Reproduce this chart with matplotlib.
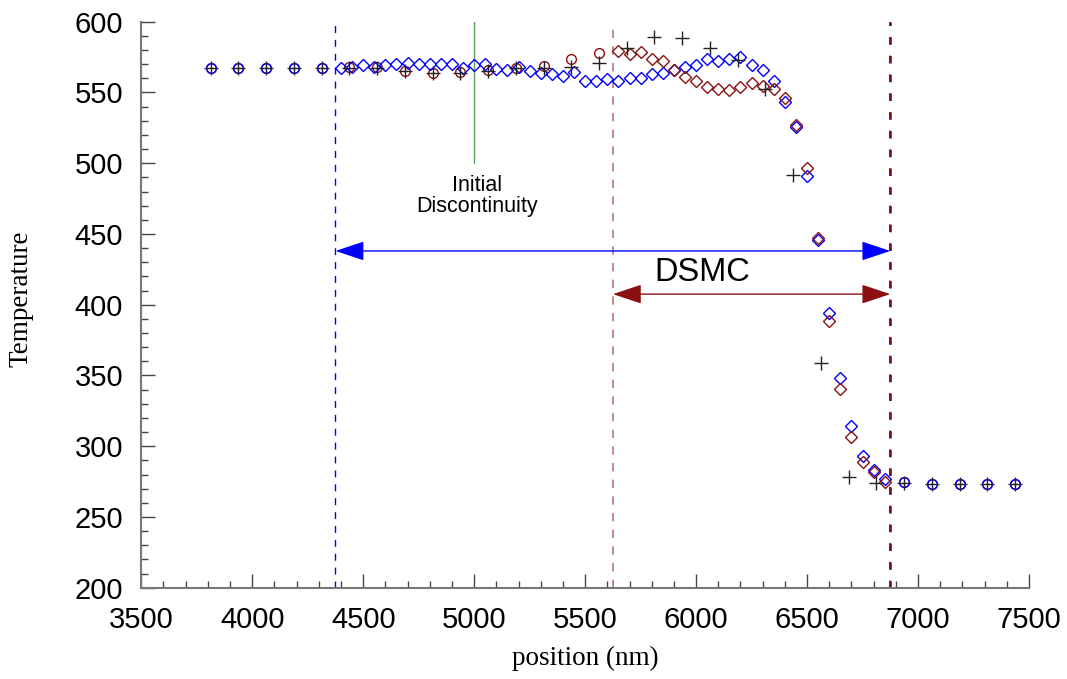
import numpy as np
import matplotlib
matplotlib.use("Agg")
import matplotlib.pyplot as plt
from matplotlib.ticker import MultipleLocator

# coarse grid (continuum) cells
coarse_x = [3812.5, 3937.5, 4062.5, 4187.5, 4312.5, 4437.5, 4562.5, 4687.5, 4812.5, 4937.5,
            5062.5, 5187.5, 5312.5, 5437.5, 5562.5, 5687.5, 5812.5, 5937.5, 6062.5, 6187.5,
            6312.5, 6437.5, 6562.5, 6687.5, 6812.5, 6937.5, 7062.5, 7187.5, 7312.5, 7437.5]
black_T = [567, 567, 567, 567, 567, 567, 567, 565, 563.5, 563.5,
           565, 567, 567, 568, 571, 581.5, 589.5, 588.5, 581.5, 573,
           552.5, 492, 359, 278, 274, 274, 273.5, 273.5, 273.5, 273.5]

red_circ_x = [3812.5, 3937.5, 4062.5, 4187.5, 4312.5, 4437.5, 4562.5, 4687.5, 4812.5, 4937.5,
              5062.5, 5187.5, 5312.5, 5437.5, 5562.5, 6937.5, 7062.5, 7187.5, 7312.5, 7437.5]
red_circ_T = [567, 567, 567, 567, 567, 567.8, 567.8, 565.4, 564, 564.2,
              566, 567.5, 568.5, 574, 578, 275, 273.5, 273.5, 273.5, 273.5]

blue_circ_x = [3812.5, 3937.5, 4062.5, 4187.5, 4312.5, 6937.5, 7062.5, 7187.5, 7312.5, 7437.5]
blue_circ_T = [567, 567, 567, 567, 567, 275, 273.5, 273.5, 273.5, 273.5]

# DSMC cells
blue_dia_x = [4400, 4450, 4500, 4550, 4600, 4650, 4700, 4750, 4800, 4850,
              4900, 4950, 5000, 5050, 5100, 5150, 5200, 5250, 5300, 5350,
              5400, 5450, 5500, 5550, 5600, 5650, 5700, 5750, 5800, 5850,
              5900, 5950, 6000, 6050, 6100, 6150, 6200, 6250, 6300, 6350,
              6400, 6450, 6500, 6550, 6600, 6650, 6700, 6750, 6800, 6850]
blue_dia_T = [567.0, 567.8, 569.2, 567.8, 569.2, 569.9, 570.8, 569.9, 570.3, 569.9,
              569.9, 567.5, 569.2, 570.1, 566.4, 565.9, 568.2, 565.4, 564, 563,
              561.6, 564.2, 558.3, 558.3, 559.3, 558.3, 560, 560, 563, 563.5,
              565.9, 568.2, 569.4, 573.4, 572.4, 573.9, 574.8, 569.4, 565.9, 558.3,
              543.5, 525.4, 491.2, 446, 393.9, 348, 314.5, 293.3, 283, 276.7]

red_dia_x = [5650, 5700, 5750, 5800, 5850, 5900, 5950, 6000, 6050, 6100,
             6150, 6200, 6250, 6300, 6350, 6400, 6450, 6500, 6550, 6600,
             6650, 6700, 6750, 6800, 6850]
red_dia_T = [579.5, 577.2, 578.8, 573.6, 572.4, 565.9, 561.1, 558.3, 553.6, 552.2,
             551.7, 554.1, 556.5, 554.6, 552.4, 545.9, 527, 496.4, 447, 388.7,
             340.2, 306.7, 288.6, 282, 274.5]

blue_start = 4375
red_start = 5625
dsmc_end = 6875
disc_x = 5000

plt.rcParams["lines.scale_dashes"] = False
red = "#8B1010"
blue = "#0000FF"

fig = plt.figure(figsize=(10.67, 6.79), dpi=100)
ax = fig.add_axes([0.1324, 0.1344, 0.832, 0.8336])

ax.axvline(blue_start, color=blue, lw=1, dashes=(5, 5), zorder=1)
ax.axvline(red_start, color="#B87878", lw=1.2, dashes=(6, 6), zorder=1)
ax.axvline(dsmc_end, color=blue, lw=1.8, dashes=(5.3, 8.2), zorder=1)
ax.axvline(dsmc_end, color=red, lw=1.3, dashes=(5.3, 8.2), zorder=1)
ax.plot([disc_x, disc_x], [500, 600], color="#5E9E5E", lw=1, zorder=1)

ax.plot(red_circ_x, red_circ_T, "o", ms=7, mfc="none", mec=red, mew=1, zorder=3)
ax.plot(blue_circ_x, blue_circ_T, "o", ms=7, mfc="none", mec=blue, mew=1, zorder=3)
ax.plot(blue_dia_x, blue_dia_T, "D", ms=5.8, mfc="none", mec=blue, mew=1, zorder=3)
ax.plot(red_dia_x, red_dia_T, "D", ms=5.8, mfc="none", mec=red, mew=1, zorder=3)
ax.plot(coarse_x, black_T, "+", ms=10, color="#222222", mew=1, zorder=4)

ax.annotate("", xy=(blue_start, 438), xytext=(dsmc_end, 438),
            arrowprops=dict(arrowstyle="<|-|>,head_length=0.9,head_width=0.3",
                            color=blue, lw=1, shrinkA=0, shrinkB=0, mutation_scale=20))
ax.annotate("", xy=(red_start, 407.5), xytext=(dsmc_end, 407.5),
            arrowprops=dict(arrowstyle="<|-|>,head_length=0.9,head_width=0.3",
                            color=red, lw=1, shrinkA=0, shrinkB=0, mutation_scale=20))

ax.text(6030, 423, "DSMC", fontsize=23.5, family="Liberation Sans", ha="center", va="center")
ax.text(5012, 477, "Initial\nDiscontinuity", fontsize=15.5, family="Liberation Sans",
        ha="center", va="center", linespacing=1.0)

ax.set_xlim(3500, 7500)
ax.set_ylim(200, 600)
ax.xaxis.set_major_locator(MultipleLocator(500))
ax.xaxis.set_minor_locator(MultipleLocator(100))
ax.yaxis.set_major_locator(MultipleLocator(50))
ax.yaxis.set_minor_locator(MultipleLocator(10))

for s in ["top", "right"]:
    ax.spines[s].set_visible(False)
for s in ["left", "bottom"]:
    ax.spines[s].set_color("#777777")
    ax.spines[s].set_linewidth(1.5)

ax.tick_params(which="both", direction="in", color="#444444", width=1)
ax.tick_params(which="major", length=10, labelsize=21, pad=13)
ax.tick_params(which="minor", length=5)
for lab in ax.get_xticklabels() + ax.get_yticklabels():
    lab.set_family("Liberation Sans")

ax.set_xlabel("position (nm)", family="Liberation Serif", fontsize=19.5)
ax.set_ylabel("Temperature", family="Liberation Serif", fontsize=19.5)
ax.xaxis.set_label_coords(0.5, -0.102)
ax.yaxis.set_label_coords(-0.121, 0.51)

fig.savefig("out.png", dpi=100)
